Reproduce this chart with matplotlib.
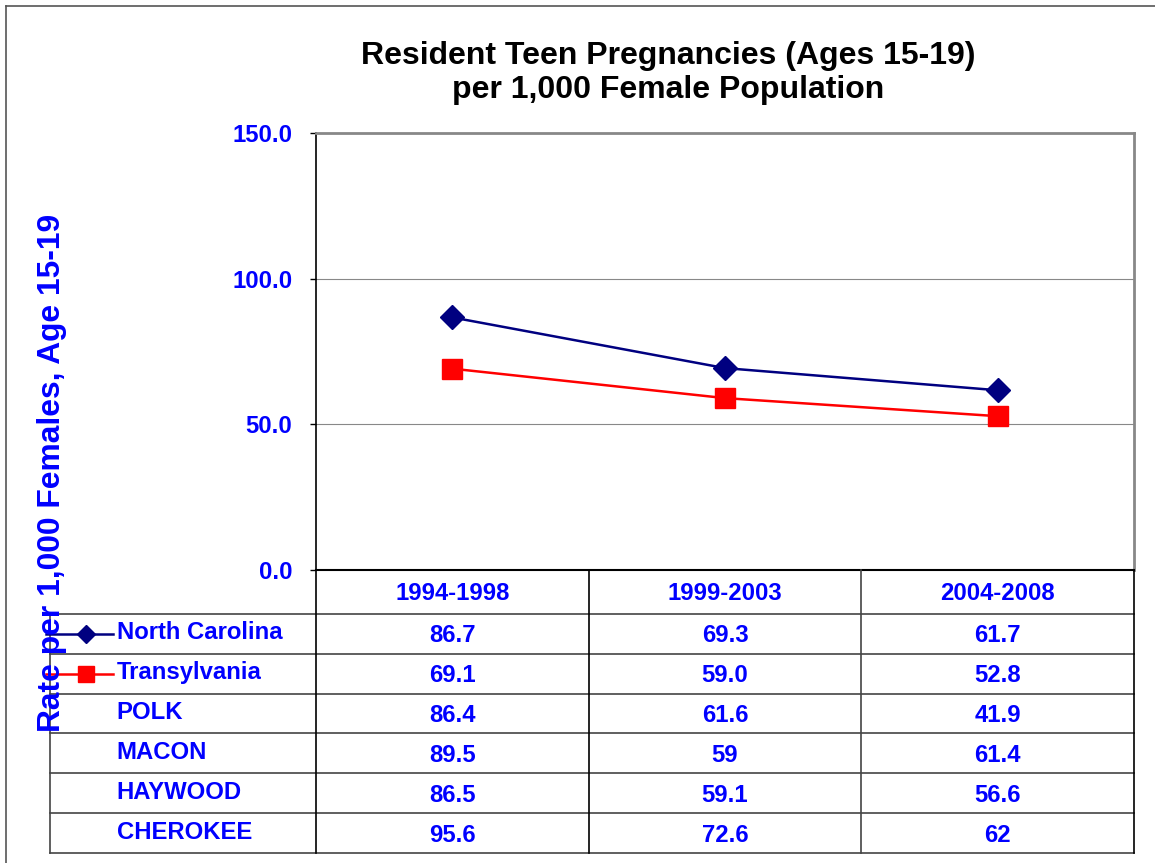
import matplotlib.pyplot as plt
import numpy as np

plt.rcParams['font.family'] = ['Liberation Sans', 'DejaVu Sans']
plt.rcParams['font.weight'] = 'bold'

periods = ['1994-1998', '1999-2003', '2004-2008']
nc = [86.7, 69.3, 61.7]
trans = [69.1, 59.0, 52.8]
row_names = ['North Carolina', 'Transylvania', 'POLK', 'MACON', 'HAYWOOD', 'CHEROKEE']
row_text = [['86.7', '69.3', '61.7'],
            ['69.1', '59.0', '52.8'],
            ['86.4', '61.6', '41.9'],
            ['89.5', '59', '61.4'],
            ['86.5', '59.1', '56.6'],
            ['95.6', '72.6', '62']]
yticks = [0, 50, 100, 150]

blue = '#0000ff'
navy = '#000080'
W, H = 1155, 863
fs = 17.2

fig = plt.figure(figsize=(W / 100, H / 100), dpi=100)

# outer chart frame (left and top edges visible)
fig.add_artist(plt.Line2D([6 / W, 6 / W], [0, 1 - 6 / H], color='#555555', lw=1.2))
fig.add_artist(plt.Line2D([6 / W, 1], [1 - 6 / H, 1 - 6 / H], color='#555555', lw=1.2))

# main plot area
L, R, T, B = 316, 1134, 133, 570
ax = fig.add_axes([L / W, 1 - B / H, (R - L) / W, (B - T) / H])
x = np.arange(len(periods))
ax.plot(x, nc, color=navy, lw=1.8, marker='D', ms=12, label='North Carolina')
ax.plot(x, trans, color='red', lw=1.8, marker='s', ms=14, label='Transylvania')
ax.set_xlim(-0.5, 2.5)
ax.set_ylim(0, 150)
ax.set_yticks(yticks)
ax.set_yticklabels(['%.1f' % v for v in yticks], color=blue, fontsize=fs, fontweight='bold')
ax.set_xticks([])
ax.tick_params(axis='y', length=4, width=1, direction='out', pad=13)
ax.yaxis.grid(True, color='#888888', lw=0.8)
ax.set_axisbelow(True)
ax.spines['left'].set_color('black')
ax.spines['left'].set_linewidth(1.2)
ax.spines['bottom'].set_color('black')
ax.spines['bottom'].set_linewidth(1.5)
ax.spines['top'].set_color('#888888')
ax.spines['top'].set_linewidth(2)
ax.spines['right'].set_color('#888888')
ax.spines['right'].set_linewidth(2)

fig.text(668 / W, 1 - 73 / H, 'Resident Teen Pregnancies (Ages 15-19)\nper 1,000 Female Population',
         ha='center', va='center', fontsize=23, fontweight='bold', color='black', linespacing=1.2)

# data table below the plot
TL, TB = 50, 853
tab = fig.add_axes([TL / W, 1 - TB / H, (R - TL) / W, (TB - B) / H])
tab.set_xlim(-0.5 - (L - TL) / ((R - L) / 3), 2.5)
bounds = [0, 1.1] + [1.1 + i for i in range(1, 7)]
tab.set_ylim(bounds[-1], 0)
tab.axis('off')
xl = tab.get_xlim()[0]
line_c = '#444444'
for b in bounds[1:]:
    tab.plot([xl, 2.5], [b, b], color=line_c, lw=1.2, clip_on=False)
for c in [-0.5, 0.5, 1.5, 2.5]:
    tab.plot([c, c], [0, bounds[-1]], color='black' if c != 1.5 else line_c, lw=1.2, clip_on=False)
tab.plot([xl, xl], [bounds[1], bounds[-1]], color=line_c, lw=1.2, clip_on=False)

for j, p in enumerate(periods):
    tab.text(j, 0.6, p, ha='center', va='center', color=blue, fontsize=fs, fontweight='bold')
for i, name in enumerate(row_names):
    yc = (bounds[i + 1] + bounds[i + 2]) / 2
    tab.text(xl + 0.245, yc - 0.02, name, ha='left', va='center', color=blue, fontsize=fs, fontweight='bold')
    for j, v in enumerate(row_text[i]):
        tab.text(j, yc + 0.05, v, ha='center', va='center', color=blue, fontsize=fs, fontweight='bold')

# legend keys inside table
for i, (col, mk, ms) in enumerate([(navy, 'D', 9), ('red', 's', 11)]):
    yc = (bounds[i + 1] + bounds[i + 2]) / 2
    tab.plot([xl - 0.015, xl + 0.23], [yc, yc], color=col, lw=1.8, clip_on=False)
    tab.plot([xl + 0.132], [yc], color=col, marker=mk, ms=ms, clip_on=False)

fig.text(52 / W, 1 - 473 / H, 'Rate per 1,000 Females, Age 15-19', rotation=90,
         ha='center', va='center', fontsize=22.9, fontweight='bold', color=blue)

fig.savefig('out.png', dpi=100)
